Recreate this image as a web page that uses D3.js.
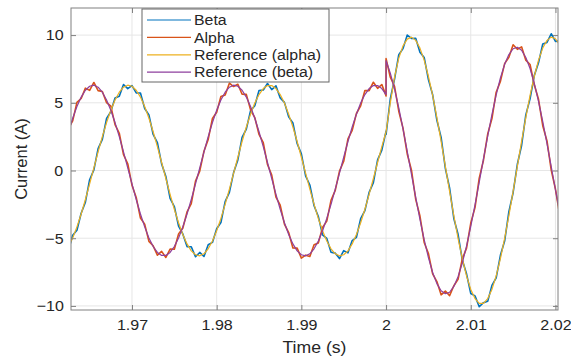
<!DOCTYPE html>
<html>
<head>
<meta charset="utf-8">
<script src="https://cdn.jsdelivr.net/npm/d3@7"></script>
<style>
  body { margin: 0; background: #fff; }
  text { font-family: "Liberation Sans", Arial, sans-serif; fill: #262626; }
  .esticado { transform-box: fill-box; transform-origin: center; transform: scaleX(1.07); }
</style>
</head>
<body>
<svg id="grafico"></svg>
<script>
// amostragem: antes do degrau (1.9625 s ... 2.0 s) e depois (2.0 s ... 2.0205 s)
const t0Antes = 1.9625;
const t0Depois = 2.0;
const passo = 0.0005;

// Beta (azul) - medida
const betaAntes = [-5.91, -4.78, -4.41, -3.16, -2.34, -0.68, 0.05, 1.62, 2.30, 3.84,
  4.35, 5.36, 5.48, 6.35, 6.05, 6.27, 5.73, 5.72, 4.58, 4.11,
  2.66, 2.06, 0.49, -0.44, -2.06, -2.66, -4.11, -4.68, -5.62, -5.63,
  -6.37, -6.05, -6.35, -5.48, -5.31, -4.30, -3.84, -2.30, -1.62, -0.15,
  0.78, 2.44, 3.06, 4.41, 4.78, 5.91, 5.95, 6.42, 5.97, 6.25,
  5.36, 5.03, 3.96, 3.51, 1.99, 1.23, -0.40, -1.07, -2.60, -3.39,
  -4.75, -5.01, -6.03, -6.10, -6.50, -5.92, -6.08, -5.17, -4.93, -3.56,
  -2.96, -1.61, -0.89, 0.79, 1.51, 2.91];
const betaDepois = [2.66, 5.30, 6.75, 8.55, 9.00, 10.00, 9.75, 9.76, 8.74, 8.35,
  6.71, 5.59, 3.71, 2.45, 0.16, -1.29, -3.54, -4.71, -6.61, -7.63,
  -9.08, -9.26, -10.06, -9.76, -9.66, -8.48, -7.93, -6.26, -5.21, -3.04,
  -1.64, 0.46, 1.85, 4.11, 5.29, 7.01, 7.95, 9.34, 9.46, 10.10, 9.53, 9.57];

// Alpha (laranja) - medida
const alphaAntes = [3.11, 3.66, 5.03, 5.32, 6.08, 5.92, 6.50, 5.90, 5.83, 5.01,
  4.75, 3.39, 2.75, 1.17, 0.50, -1.08, -1.99, -3.51, -3.96, -5.23,
  -5.56, -6.25, -5.97, -6.42, -5.80, -5.81, -4.68, -4.26, -3.06, -2.44,
  -0.78, -0.05, 1.42, 2.30, 3.84, 4.30, 5.46, 5.58, 6.45, 6.20,
  6.37, 5.63, 5.62, 4.48, 3.91, 2.66, 2.06, 0.44, -0.34, -1.96,
  -2.56, -3.96, -4.58, -5.72, -5.73, -6.47, -6.25, -6.35, -5.48, -5.36,
  -4.20, -3.74, -2.20, -1.47, -0.05, 0.68, 2.34, 2.96, 4.21, 4.78,
  5.91, 5.90, 6.52, 6.07, 6.35, 5.51];
const alphaDepois = [8.26, 6.89, 6.22, 4.38, 3.13, 1.22, 0.02, -2.13, -3.36, -5.31,
  -6.13, -7.63, -8.20, -9.18, -8.90, -9.24, -8.51, -8.04, -6.53, -5.73,
  -3.88, -2.74, -0.56, 0.76, 2.69, 3.83, 5.78, 6.58, 7.89, 8.36,
  9.29, 8.95, 9.13, 8.15, 7.83, 6.33, 5.26, 3.31, 2.18, 0.03, -1.37, -3.28];

// Reference (alpha) (amarelo)
const refAlphaAntes = [-5.61, -4.98, -4.16, -3.21, -2.14, -0.98, 0.20, 1.37, 2.50, 3.54,
  4.45, 5.21, 5.78, 6.15, 6.30, 6.22, 5.93, 5.42, 4.73, 3.86,
  2.86, 1.76, 0.59, -0.59, -1.76, -2.86, -3.86, -4.73, -5.42, -5.93,
  -6.22, -6.30, -6.15, -5.78, -5.21, -4.45, -3.54, -2.50, -1.37, -0.20,
  0.98, 2.14, 3.21, 4.16, 4.98, 5.61, 6.05, 6.27, 6.27, 6.05,
  5.61, 4.98, 4.16, 3.21, 2.14, 0.98, -0.20, -1.37, -2.50, -3.54,
  -4.45, -5.21, -5.78, -6.15, -6.30, -6.22, -5.93, -5.42, -4.73, -3.86,
  -2.86, -1.76, -0.59, 0.59, 1.76, 2.86];
const refAlphaDepois = [2.86, 5.0, 6.9, 8.3, 9.2, 9.7, 9.85, 9.61, 9.04, 8.15,
  6.96, 5.54, 3.91, 2.15, 0.31, -1.54, -3.34, -5.01, -6.51, -7.78,
  -8.78, -9.46, -9.81, -9.81, -9.46, -8.78, -7.78, -6.51, -5.01, -3.34,
  -1.54, 0.31, 2.15, 3.91, 5.54, 6.96, 8.15, 9.04, 9.61, 9.85, 9.73, 9.27];

// Reference (beta) (roxo)
const refBetaAntes = [2.86, 3.86, 4.73, 5.42, 5.93, 6.22, 6.30, 6.15, 5.78, 5.21,
  4.45, 3.54, 2.50, 1.37, 0.20, -0.98, -2.14, -3.21, -4.16, -4.98,
  -5.61, -6.05, -6.27, -6.27, -6.05, -5.61, -4.98, -4.16, -3.21, -2.14,
  -0.98, 0.20, 1.37, 2.50, 3.54, 4.45, 5.21, 5.78, 6.15, 6.30,
  6.22, 5.93, 5.42, 4.73, 3.86, 2.86, 1.76, 0.59, -0.59, -1.76,
  -2.86, -3.86, -4.73, -5.42, -5.93, -6.22, -6.30, -6.15, -5.78, -5.21,
  -4.45, -3.54, -2.50, -1.37, -0.20, 0.98, 2.14, 3.21, 4.16, 4.98,
  5.61, 6.05, 6.27, 6.27, 6.05, 5.61];
const refBetaDepois = [8.11, 7.19, 6.02, 4.63, 3.08, 1.42, -0.28, -1.98, -3.61, -5.11,
  -6.43, -7.53, -8.35, -8.88, -9.10, -8.99, -8.56, -7.84, -6.83, -5.58,
  -4.13, -2.54, -0.86, 0.86, 2.54, 4.13, 5.58, 6.83, 7.84, 8.56,
  8.99, 9.10, 8.88, 8.35, 7.53, 6.43, 5.11, 3.61, 1.98, 0.28, -1.42, -3.08];

const nomes = ['Beta', 'Alpha', 'Reference (alpha)', 'Reference (beta)'];
const cores = ['#0072BD', '#D95319', '#EDB120', '#8E3F9E'];
const xTicks = [1.97, 1.98, 1.99, 2.00, 2.01, 2.02];
const yTicks = [-10, -5, 0, 5, 10];

function montar(antes, depois) {
  return antes.map((v, i) => ({ t: t0Antes + i * passo, v: v }))
    .concat(depois.map((v, i) => ({ t: t0Depois + i * passo, v: v })));
}

const series = [
  montar(betaAntes, betaDepois),
  montar(alphaAntes, alphaDepois),
  montar(refAlphaAntes, refAlphaDepois),
  montar(refBetaAntes, refBetaDepois)
];
const espessuras = [1.6, 1.6, 1.2, 1.2];

const largura = 571, altura = 356;
const esq = 71, dir = 558, topo = 8, base = 310;

let svg = d3.select('#grafico')
  .attr('width', largura)
  .attr('height', altura);

let fnX = d3.scaleLinear().domain([1.9628, 2.0203]).range([esq, dir]);
let fnY = d3.scaleLinear().domain([-10.3, 12]).range([base, topo]);

// grade
svg.append('g').selectAll('line').data(xTicks).enter().append('line')
  .attr('x1', d => fnX(d)).attr('x2', d => fnX(d))
  .attr('y1', topo).attr('y2', base)
  .attr('stroke', '#e6e6e6');
svg.append('g').selectAll('line').data(yTicks).enter().append('line')
  .attr('x1', esq).attr('x2', dir)
  .attr('y1', d => fnY(d)).attr('y2', d => fnY(d))
  .attr('stroke', '#e6e6e6');

// curvas
svg.append('clipPath').attr('id', 'recorte')
  .append('rect').attr('x', esq).attr('y', topo).attr('width', dir - esq).attr('height', base - topo);

let linha = d3.line().x(d => fnX(d.t)).y(d => fnY(d.v));
svg.append('g').attr('clip-path', 'url(#recorte)')
  .selectAll('path').data(series).enter().append('path')
  .attr('d', linha)
  .attr('fill', 'none')
  .attr('stroke', (d, i) => cores[i])
  .attr('stroke-width', (d, i) => espessuras[i])
  .attr('stroke-linejoin', 'round');

// eixos
function estilo(g) {
  g.select('.domain').remove();
  g.selectAll('line').attr('stroke', '#808080');
  g.selectAll('text').attr('font-size', 15).attr('fill', '#262626')
    .style('font-family', '"Liberation Sans", Arial, sans-serif').classed('esticado', true);
}
svg.append('g').attr('transform', `translate(0,${base})`)
  .call(d3.axisBottom(fnX).tickValues(xTicks).tickFormat(d3.format('')).tickSizeInner(-5).tickSizeOuter(0).tickPadding(9))
  .call(estilo);
svg.append('g').attr('transform', `translate(0,${topo})`)
  .call(d3.axisTop(fnX).tickValues(xTicks).tickFormat('').tickSizeInner(-5).tickSizeOuter(0))
  .call(estilo);
svg.append('g').attr('transform', `translate(${esq},0)`)
  .call(d3.axisLeft(fnY).tickValues(yTicks).tickSizeInner(-5).tickSizeOuter(0).tickPadding(8))
  .call(estilo);
svg.append('g').attr('transform', `translate(${dir},0)`)
  .call(d3.axisRight(fnY).tickValues(yTicks).tickFormat('').tickSizeInner(-5).tickSizeOuter(0))
  .call(estilo);

// moldura
svg.append('rect')
  .attr('x', esq).attr('y', topo).attr('width', dir - esq).attr('height', base - topo)
  .attr('fill', 'none').attr('stroke', '#808080');

// rótulos dos eixos
svg.append('text').text('Time (s)')
  .attr('x', (esq + dir) / 2).attr('y', 353)
  .attr('text-anchor', 'middle').attr('font-size', 16.5).classed('esticado', true);
svg.append('text').text('Current (A)')
  .attr('transform', `translate(27,${(topo + base) / 2}) rotate(-90)`)
  .attr('text-anchor', 'middle').attr('font-size', 16.5);

// legenda
let legenda = svg.append('g');
legenda.append('rect')
  .attr('x', 142).attr('y', 9).attr('width', 187).attr('height', 73)
  .attr('fill', '#fff').attr('stroke', '#666');
let itens = legenda.selectAll('.item').data(nomes).enter().append('g')
  .attr('transform', (d, i) => `translate(0,${20 + i * 17.4})`);
itens.append('line')
  .attr('x1', 147).attr('x2', 191)
  .attr('stroke', (d, i) => cores[i]).attr('stroke-width', 1.2);
itens.append('text').text(d => d)
  .attr('x', 194).attr('dy', '0.35em').attr('font-size', 15)
  .style('transform-origin', '194px 0').style('transform', 'scaleX(1.06)');
</script>
</body>
</html>
